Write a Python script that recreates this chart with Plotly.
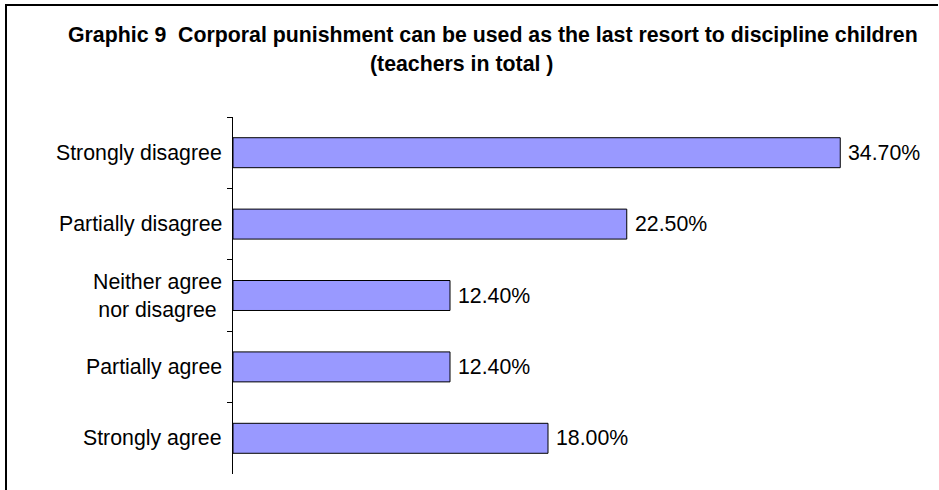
import plotly.graph_objects as go

# data
categories = ["Strongly disagree", "Partially disagree", "Neither agree nor disagree",
              "Partially agree", "Strongly agree"]
tick_labels = ["Strongly disagree", "Partially disagree", "Neither agree<br>nor disagree",
               "Partially agree", "Strongly agree"]
percent = [34.7, 22.5, 12.4, 12.4, 18.0]

title_line1 = "Graphic 9  Corporal punishment can be used as the last resort to discipline children"
title_line2 = "(teachers in total )"

W, H = 939, 490
L, R, T, B = 233, 6, 117, 16
FONT = "Liberation Sans, Arial, sans-serif"
FS = 21.3


def px(xp):
    return (xp - L) / (W - L - R)


def py(yp):
    return (H - B - yp) / (H - T - B)


fig = go.Figure(go.Bar(
    x=percent,
    y=categories,
    orientation="h",
    marker=dict(color="#9999FF", line=dict(color="black", width=1)),
    hoverinfo="skip",
))

annotations = []
# category labels (centred multi-line like the original)
for cat, lab in zip(categories, tick_labels):
    annotations.append(dict(
        x=0, xref="paper", y=cat, yref="y", text=lab, showarrow=False,
        xanchor="right", yanchor="middle", align="center", xshift=-9,
        font=dict(size=FS, color="black", family=FONT),
    ))
# value labels
for cat, v in zip(categories, percent):
    annotations.append(dict(
        x=v, xref="x", y=cat, yref="y", text=f"{v:.2f}%", showarrow=False,
        xanchor="left", yanchor="middle", xshift=6,
        font=dict(size=FS, color="black", family=FONT),
    ))
# title, two lines
annotations.append(dict(
    x=px(493), xref="paper", y=py(35), yref="paper", text="<b>" + title_line1 + "</b>",
    showarrow=False, xanchor="center", yanchor="middle",
    font=dict(size=FS, color="black", family=FONT),
))
annotations.append(dict(
    x=px(461), xref="paper", y=py(64), yref="paper", text="<b>" + title_line2 + "</b>",
    showarrow=False, xanchor="center", yanchor="middle",
    font=dict(size=FS, color="black", family=FONT),
))

# outer frame: only top and left edges fall inside the picture
shapes = [
    dict(type="line", xref="paper", yref="paper", x0=px(5), x1=px(W - 1), y0=py(5), y1=py(5),
         line=dict(color="black", width=2)),
    dict(type="line", xref="paper", yref="paper", x0=px(6), x1=px(6), y0=py(4), y1=py(H),
         line=dict(color="black", width=2)),
]

fig.update_layout(
    width=W, height=H,
    margin=dict(l=L, r=R, t=T, b=B),
    paper_bgcolor="white", plot_bgcolor="white",
    showlegend=False,
    bargap=0.58,
    annotations=annotations,
    shapes=shapes,
    xaxis=dict(visible=False, range=[0, 40]),
    yaxis=dict(
        type="category", categoryorder="array", categoryarray=categories,
        range=[4.5, -0.5], showgrid=False, zeroline=False,
        showline=True, linecolor="black", linewidth=1,
        ticks="outside", tickson="boundaries", ticklen=5, tickcolor="black",
        showticklabels=False,
    ),
)

# drop the default 8px page margin so the figure sits at the window corner
fig.write_html("out.html", config={"displayModeBar": False},
               post_script="document.body.style.margin='0';")
